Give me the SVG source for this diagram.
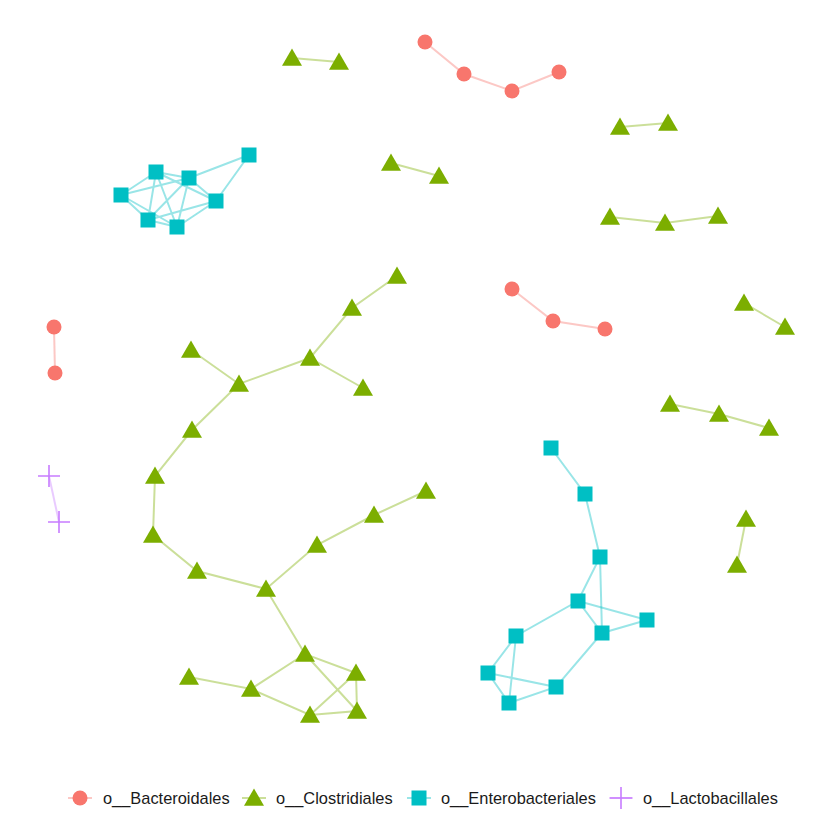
<svg xmlns="http://www.w3.org/2000/svg" xmlns:xlink="http://www.w3.org/1999/xlink" width="830" height="830" viewBox="0 0 830 830">
<style>
.er{stroke:#F8766D;stroke-opacity:0.4;stroke-width:2;fill:none}
.eg{stroke:#7CAE00;stroke-opacity:0.4;stroke-width:2;fill:none}
.ec{stroke:#00BFC4;stroke-opacity:0.4;stroke-width:2;fill:none}
.ep{stroke:#C77CFF;stroke-opacity:0.4;stroke-width:2;fill:none}
.cr{fill:#F8766D}
.tg{fill:#7CAE00}
.sc{fill:#00BFC4}
.pp{stroke:#C77CFF;stroke-width:1.6;fill:none}
.lt{font-family:"Liberation Sans",Arial,sans-serif;font-size:16.4px;fill:#1a1a1a}
</style>
<defs>
<circle id="ci" r="7.5"/>
<path id="tr" d="M0,-9.5 L10,7.8 L-10,7.8 Z"/>
<rect id="sq" x="-7.5" y="-7.5" width="15" height="15"/>
<path id="pl" d="M-11,0 H11 M0,-11 V11"/>
</defs>
<rect width="830" height="830" fill="#ffffff"/>
<g id="edges">
<path class="er" d="M425,42 L464,74 L512,91 L559,72"/>
<path class="er" d="M512,289 L553,321 L605,329"/>
<path class="er" d="M54,327 L55,373"/>
<path class="ep" d="M49,476 L59,522"/>
<path class="eg" d="M292,58 L339,62"/>
<path class="eg" d="M620,127 L668,123"/>
<path class="eg" d="M391,163 L439,176"/>
<path class="eg" d="M610,217 L665,223 L718,216"/>
<path class="eg" d="M744,303 L785,327"/>
<path class="eg" d="M670,404 L719,414 L769,428"/>
<path class="eg" d="M746,519 L737,565"/>
<path class="eg" d="M397,276 L352,308 L310,358 L363,388 M310,358 L239,384 L191,350 M239,384 L192,430 L155,476 L153,535 L197,571 L266,589 L317,545 L374,515 L426,491 M266,589 L305,654"/>
<path class="eg" d="M189,677 L251,689 L305,654 L356,673 L357,711 L310,715 L251,689 M305,654 L357,711 M356,673 L310,715"/>
<path class="ec" d="M551,448 L585,494 L600,557 L578,601 M600,557 L602,633"/>
<path class="ec" d="M578,601 L647,620 L602,633 L578,601 L516,636 L488,673 L509,703 L556,687 L602,633 M516,636 L509,703 M488,673 L556,687"/>
<path class="ec" d="M121,195 L156,172 M121,195 L189,178 M121,195 L148,220 M121,195 L177,227 M156,172 L189,178 M156,172 L216,201 M156,172 L148,220 M156,172 L177,227 M189,178 L249,155 M189,178 L216,201 M189,178 L148,220 M189,178 L177,227 M249,155 L216,201 M216,201 L148,220 M216,201 L177,227 M148,220 L177,227"/>
</g>
<g id="bacteroidales">
<use id="b1" href="#ci" class="cr" x="425" y="42"/>
<use id="b2" href="#ci" class="cr" x="464" y="74"/>
<use id="b3" href="#ci" class="cr" x="512" y="91"/>
<use id="b4" href="#ci" class="cr" x="559" y="72"/>
<use id="b5" href="#ci" class="cr" x="512" y="289"/>
<use id="b6" href="#ci" class="cr" x="553" y="321"/>
<use id="b7" href="#ci" class="cr" x="605" y="329"/>
<use id="b8" href="#ci" class="cr" x="54" y="327"/>
<use id="b9" href="#ci" class="cr" x="55" y="373"/>
</g>
<g id="lactobacillales">
<use id="l1" href="#pl" class="pp" x="49" y="476"/>
<use id="l2" href="#pl" class="pp" x="59" y="522"/>
</g>
<g id="clostridiales">
<use id="c1" href="#tr" class="tg" x="292" y="58"/>
<use id="c2" href="#tr" class="tg" x="339" y="62"/>
<use id="c3" href="#tr" class="tg" x="620" y="127"/>
<use id="c4" href="#tr" class="tg" x="668" y="123"/>
<use id="c5" href="#tr" class="tg" x="391" y="163"/>
<use id="c6" href="#tr" class="tg" x="439" y="176"/>
<use id="c7" href="#tr" class="tg" x="610" y="217"/>
<use id="c8" href="#tr" class="tg" x="665" y="223"/>
<use id="c9" href="#tr" class="tg" x="718" y="216"/>
<use id="c10" href="#tr" class="tg" x="744" y="303"/>
<use id="c11" href="#tr" class="tg" x="785" y="327"/>
<use id="c12" href="#tr" class="tg" x="670" y="404"/>
<use id="c13" href="#tr" class="tg" x="719" y="414"/>
<use id="c14" href="#tr" class="tg" x="769" y="428"/>
<use id="c15" href="#tr" class="tg" x="746" y="519"/>
<use id="c16" href="#tr" class="tg" x="737" y="565"/>
<use id="c17" href="#tr" class="tg" x="397" y="276"/>
<use id="c18" href="#tr" class="tg" x="352" y="308"/>
<use id="c19" href="#tr" class="tg" x="310" y="358"/>
<use id="c20" href="#tr" class="tg" x="363" y="388"/>
<use id="c21" href="#tr" class="tg" x="239" y="384"/>
<use id="c22" href="#tr" class="tg" x="191" y="350"/>
<use id="c23" href="#tr" class="tg" x="192" y="430"/>
<use id="c24" href="#tr" class="tg" x="155" y="476"/>
<use id="c25" href="#tr" class="tg" x="153" y="535"/>
<use id="c26" href="#tr" class="tg" x="197" y="571"/>
<use id="c27" href="#tr" class="tg" x="266" y="589"/>
<use id="c28" href="#tr" class="tg" x="317" y="545"/>
<use id="c29" href="#tr" class="tg" x="374" y="515"/>
<use id="c30" href="#tr" class="tg" x="426" y="491"/>
<use id="c31" href="#tr" class="tg" x="305" y="654"/>
<use id="c32" href="#tr" class="tg" x="189" y="677"/>
<use id="c33" href="#tr" class="tg" x="251" y="689"/>
<use id="c34" href="#tr" class="tg" x="356" y="673"/>
<use id="c35" href="#tr" class="tg" x="310" y="715"/>
<use id="c36" href="#tr" class="tg" x="357" y="711"/>
</g>
<g id="enterobacteriales">
<use id="e1" href="#sq" class="sc" x="121" y="195"/>
<use id="e2" href="#sq" class="sc" x="156" y="172"/>
<use id="e3" href="#sq" class="sc" x="189" y="178"/>
<use id="e4" href="#sq" class="sc" x="249" y="155"/>
<use id="e5" href="#sq" class="sc" x="216" y="201"/>
<use id="e6" href="#sq" class="sc" x="148" y="220"/>
<use id="e7" href="#sq" class="sc" x="177" y="227"/>
<use id="e8" href="#sq" class="sc" x="551" y="448"/>
<use id="e9" href="#sq" class="sc" x="585" y="494"/>
<use id="e10" href="#sq" class="sc" x="600" y="557"/>
<use id="e11" href="#sq" class="sc" x="578" y="601"/>
<use id="e12" href="#sq" class="sc" x="647" y="620"/>
<use id="e13" href="#sq" class="sc" x="602" y="633"/>
<use id="e14" href="#sq" class="sc" x="516" y="636"/>
<use id="e15" href="#sq" class="sc" x="488" y="673"/>
<use id="e16" href="#sq" class="sc" x="556" y="687"/>
<use id="e17" href="#sq" class="sc" x="509" y="703"/>
</g>
<g id="legend">
<line class="er" x1="68" y1="798" x2="92" y2="798"/>
<use href="#ci" class="cr" x="80" y="798"/>
<text class="lt" x="103" y="804">o__Bacteroidales</text>
<line class="eg" x1="242" y1="798" x2="266" y2="798"/>
<use href="#tr" class="tg" x="254" y="798"/>
<text class="lt" x="276" y="804">o__Clostridiales</text>
<line class="ec" x1="407" y1="798" x2="431" y2="798"/>
<use href="#sq" class="sc" x="419" y="798"/>
<text class="lt" x="441" y="804">o__Enterobacteriales</text>
<line class="ep" x1="609" y1="798" x2="633" y2="798"/>
<use href="#pl" class="pp" x="621" y="798"/>
<text class="lt" x="643" y="804">o__Lactobacillales</text>
</g>
</svg>
